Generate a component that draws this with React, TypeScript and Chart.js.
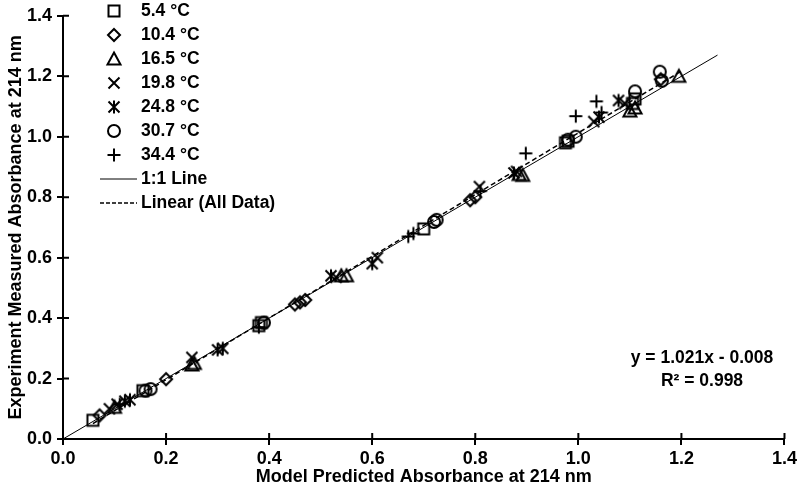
import React, { useEffect, useRef } from 'react';
import { Chart, registerables } from 'chart.js';
Chart.register(...registerables);

const FONT = '"Liberation Sans", Arial, sans-serif';

const seriesNames = ['5.4 °C', '10.4 °C', '16.5 °C', '19.8 °C', '24.8 °C', '30.7 °C', '34.4 °C'];
const seriesMarkers = ['square', 'diamond', 'triangle', 'x', 'star', 'circle', 'cross'];

// Model predicted (x) and experiment measured (y) absorbance per temperature
const t54X = [0.058, 0.155, 0.38, 0.385, 0.70, 0.975, 0.98, 1.105, 1.11];
const t54Y = [0.062, 0.160, 0.375, 0.385, 0.695, 0.980, 0.985, 1.110, 1.125];
const t104X = [0.071, 0.20, 0.45, 0.46, 0.47, 0.79, 0.80, 1.16];
const t104Y = [0.078, 0.198, 0.445, 0.452, 0.46, 0.79, 0.80, 1.19];
const t165X = [0.10, 0.25, 0.255, 0.54, 0.55, 0.885, 0.892, 1.10, 1.11, 1.195];
const t165Y = [0.105, 0.245, 0.25, 0.54, 0.54, 0.875, 0.872, 1.085, 1.095, 1.20];
const t198X = [0.09, 0.105, 0.25, 0.53, 0.61, 0.808, 0.88, 1.03, 1.09];
const t198Y = [0.10, 0.115, 0.27, 0.535, 0.60, 0.835, 0.885, 1.05, 1.11];
const t248X = [0.12, 0.13, 0.30, 0.31, 0.52, 0.60, 0.875, 1.04, 1.078];
const t248Y = [0.125, 0.13, 0.295, 0.30, 0.54, 0.58, 0.88, 1.065, 1.12];
const t307X = [0.16, 0.17, 0.39, 0.72, 0.725, 0.98, 0.995, 1.11, 1.158, 1.162];
const t307Y = [0.16, 0.165, 0.385, 0.718, 0.725, 0.99, 1.0, 1.15, 1.215, 1.185];
const t344X = [0.11, 0.38, 0.67, 0.68, 0.81, 0.898, 0.995, 1.035, 1.045];
const t344Y = [0.115, 0.37, 0.67, 0.68, 0.82, 0.945, 1.068, 1.117, 1.08];

const oneToOneX = [0, 1.27];
const oneToOneY = [0, 1.27];
const linearX = [0.058, 1.2];
const linearY = [0.051, 1.217];

const xTicks = [0, 0.2, 0.4, 0.6, 0.8, 1.0, 1.2, 1.4];
const equationText = 'y = 1.021x - 0.008';
const r2Text = 'R² = 0.998';
const xTitle = 'Model Predicted Absorbance at 214 nm';
const yTitle = 'Experiment Measured Absorbance at 214 nm';

const allX = [t54X, t104X, t165X, t198X, t248X, t307X, t344X];
const allY = [t54Y, t104Y, t165Y, t198Y, t248Y, t307Y, t344Y];

function drawMarker(g: CanvasRenderingContext2D, kind: string, cx: number, cy: number) {
  g.save();
  g.strokeStyle = '#000';
  g.lineWidth = 2;
  g.beginPath();
  if (kind === 'square') {
    g.rect(cx - 5.5, cy - 5.5, 11, 11);
  } else if (kind === 'diamond') {
    g.moveTo(cx, cy - 6); g.lineTo(cx + 6, cy); g.lineTo(cx, cy + 6); g.lineTo(cx - 6, cy); g.closePath();
  } else if (kind === 'triangle') {
    g.moveTo(cx, cy - 6.5); g.lineTo(cx + 6.5, cy + 5.5); g.lineTo(cx - 6.5, cy + 5.5); g.closePath();
  } else if (kind === 'x') {
    g.moveTo(cx - 5.5, cy - 5.5); g.lineTo(cx + 5.5, cy + 5.5);
    g.moveTo(cx + 5.5, cy - 5.5); g.lineTo(cx - 5.5, cy + 5.5);
  } else if (kind === 'star') {
    g.moveTo(cx - 5.5, cy - 5.5); g.lineTo(cx + 5.5, cy + 5.5);
    g.moveTo(cx + 5.5, cy - 5.5); g.lineTo(cx - 5.5, cy + 5.5);
    g.moveTo(cx, cy - 6.5); g.lineTo(cx, cy + 6.5);
  } else if (kind === 'circle') {
    g.arc(cx, cy, 6, 0, Math.PI * 2);
  } else if (kind === 'cross') {
    g.moveTo(cx - 6.5, cy); g.lineTo(cx + 6.5, cy);
    g.moveTo(cx, cy - 6.5); g.lineTo(cx, cy + 6.5);
  }
  g.stroke();
  g.restore();
}

function markerCanvas(kind: string) {
  const c = document.createElement('canvas');
  c.width = 18; c.height = 18;
  const g = c.getContext('2d')!;
  drawMarker(g, kind, 9, 9);
  return c;
}

const decorPlugin = {
  id: 'decor',
  afterDraw(chart: any) {
    const ctx = chart.ctx as CanvasRenderingContext2D;
    const xs = chart.scales.x;
    const ys = chart.scales.y;
    const area = chart.chartArea;
    ctx.save();
    ctx.strokeStyle = '#000';
    ctx.lineWidth = 2;
    ctx.beginPath();
    xTicks.forEach((t) => {
      const px = xs.getPixelForValue(t);
      ctx.moveTo(px, area.bottom); ctx.lineTo(px, area.bottom - 6);
      const py = ys.getPixelForValue(t);
      ctx.moveTo(area.left, py); ctx.lineTo(area.left + 6, py);
    });
    ctx.stroke();

    // Legend
    ctx.fillStyle = '#000';
    ctx.font = `bold 17.5px ${FONT}`;
    ctx.textBaseline = 'middle';
    ctx.textAlign = 'left';
    const top = 11;
    const step = 24;
    const mx = 114;
    const tx = 141;
    seriesNames.forEach((name, i) => {
      const y = top + i * step;
      drawMarker(ctx, seriesMarkers[i], mx, y);
      ctx.fillText(name, tx, y);
    });
    let y = top + 7 * step;
    ctx.beginPath();
    ctx.lineWidth = 1;
    ctx.moveTo(100, y); ctx.lineTo(137, y);
    ctx.stroke();
    ctx.fillText('1:1 Line', tx, y);
    y = top + 8 * step;
    ctx.beginPath();
    ctx.setLineDash([4, 2]);
    ctx.lineWidth = 1.5;
    ctx.moveTo(100, y); ctx.lineTo(137, y);
    ctx.stroke();
    ctx.setLineDash([]);
    ctx.fillText('Linear (All Data)', tx, y);

    // Equation
    ctx.textAlign = 'center';
    ctx.fillText(equationText, 702, 358);
    ctx.fillText(r2Text, 702, 381);

    // Axis titles
    ctx.font = `bold 18px ${FONT}`;
    ctx.fillText(xTitle, (area.left + area.right) / 2, 477);
    ctx.save();
    ctx.translate(16, (area.top + area.bottom) / 2);
    ctx.rotate(-Math.PI / 2);
    ctx.fillText(yTitle, 0, 0);
    ctx.restore();
    ctx.restore();
  },
};

export default function App() {
  const ref = useRef<HTMLCanvasElement>(null);
  useEffect(() => {
    document.body.style.margin = '0';
    const markers = seriesMarkers.map(markerCanvas);
    const datasets: any[] = seriesNames.map((name, i) => ({
      label: name,
      data: allX[i].map((x, j) => ({ x, y: allY[i][j] })),
      pointStyle: markers[i],
      pointRadius: 7,
      showLine: false,
      borderColor: '#000',
      backgroundColor: 'transparent',
    }));
    datasets.push({
      label: '1:1 Line',
      data: oneToOneX.map((x, j) => ({ x, y: oneToOneY[j] })),
      showLine: true,
      pointRadius: 0,
      borderColor: '#000',
      borderWidth: 1,
    });
    datasets.push({
      label: 'Linear (All Data)',
      data: linearX.map((x, j) => ({ x, y: linearY[j] })),
      showLine: true,
      pointRadius: 0,
      borderColor: '#000',
      borderWidth: 1.5,
      borderDash: [5, 3],
    });
    const tickFont = { family: FONT, size: 18, weight: 'bold' as const };
    const chart = new Chart(ref.current!, {
      type: 'scatter',
      data: { datasets },
      options: {
        animation: false,
        responsive: false,
        layout: { padding: { top: 8, right: 9, left: 0, bottom: 0 } },
        plugins: { legend: { display: false }, tooltip: { enabled: false } },
        scales: {
          x: {
            type: 'linear',
            min: 0,
            max: 1.4,
            afterFit: (s: any) => { s.height = 48; },
            afterBuildTicks: (s: any) => { s.ticks = xTicks.map((v) => ({ value: v })); },
            ticks: {
              color: '#000',
              font: tickFont,
              padding: 3,
              callback: (v: any) => Number(v).toFixed(1),
              maxRotation: 0,
            },
            grid: { drawOnChartArea: false, drawTicks: true, tickLength: 6, color: '#000', lineWidth: 2 },
            border: { display: true, color: '#000', width: 2 },
          },
          y: {
            type: 'linear',
            min: 0,
            max: 1.4,
            afterFit: (s: any) => { s.width = 63; },
            afterBuildTicks: (s: any) => { s.ticks = xTicks.map((v) => ({ value: v })); },
            ticks: {
              color: '#000',
              font: tickFont,
              padding: 5,
              callback: (v: any) => Number(v).toFixed(1),
            },
            grid: { drawOnChartArea: false, drawTicks: true, tickLength: 6, color: '#000', lineWidth: 2 },
            border: { display: true, color: '#000', width: 2 },
          },
        },
      },
      plugins: [decorPlugin],
    });
    return () => chart.destroy();
  }, []);
  return <canvas ref={ref} width={800} height={487} style={{ display: 'block' }} />;
}
